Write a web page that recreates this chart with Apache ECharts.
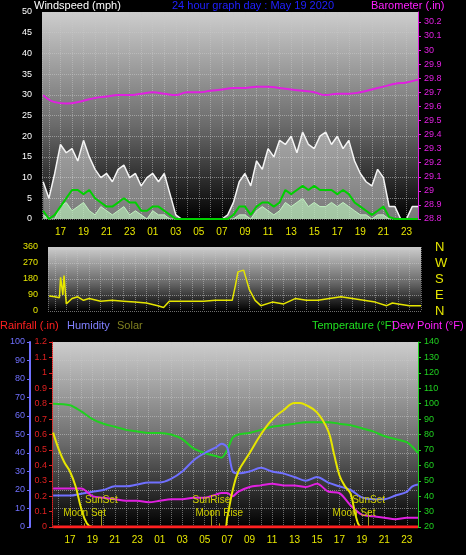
<!DOCTYPE html>
<html><head><meta charset="utf-8">
<script src="https://cdn.jsdelivr.net/npm/echarts@6/dist/echarts.min.js"></script>
<style>html,body{margin:0;background:#000}#c{width:466px;height:555px}</style>
</head><body><div id="c"></div>
<script>
// hours since midnight of first day (24 = 00 next day)
const windTimes = [15.5,16,16.5,17,17.5,18,18.5,19,19.5,20,20.5,21,21.5,22,22.5,23,23.5,24,24.5,25,25.5,26,26.5,27,27.5,28,28.5,29,29.5,30,30.5,31,31.5,32,32.5,33,33.5,34,34.5,35,35.5,36,36.5,37,37.5,38,38.5,39,39.5,40,40.5,41,41.5,42,42.5,43,43.5,44,44.5,45,45.5,46,46.5,47,47.5,48];
const windGust = [9,5,11,18,16,17,14,19,15,12,10,11,9,12,13,10,11,8,10,11,9,11,6,1,0,0,0,0,0,0,0,0,1,4,9,11,8,14,12,17,15,19,18,20,16,21,18,17,20,21,18,20,17,19,14,11,9,8,12,10,3,3,0,0,3,3];
const windAvg = [2,0,1,3,5,7,7,6,7,5,4,3,3,4,5,4,4,2,2,3,3,2,1,0,0,0,0,0,0,0,0,0,0,1,3,3,1,3,4,4,3,4,7,6,7,8,7,8,7,7,7,6,7,6,4,3,2,1,2,3,0.5,0,0,0,0,0];
const windLull = [1,0,0,3,4,2,3,4,2,1,3,2,1,2,3,1,2,1,0,2,1,1,0,0,0,0,0,0,0,0,0,0,0,0,1,1,0,2,3,2,1,2,4,3,4,5,3,4,3,3,4,3,4,3,2,1,1,0,1,1,0,0,0,0,0,0];
const baroTimes = [15.5,16.5,17.5,19,20,21,22,23,24,25,26,27,28,29,30,31,32,33,34,35,36,37,38,39,40,41,42,43,44,45,46,47,48];
const baro = [29.68,29.63,29.62,29.64,29.66,29.67,29.68,29.68,29.69,29.70,29.69,29.68,29.70,29.70,29.71,29.72,29.73,29.73,29.74,29.74,29.73,29.72,29.71,29.70,29.68,29.69,29.69,29.70,29.72,29.74,29.76,29.77,29.79];
const dirTimes = [15.5,16,16.4,16.5,16.7,16.8,17,17.5,18,18.5,19,20,21,22,23,24,25,25.5,26,27,28,29,30,31,31.5,31.8,32,32.5,33,33.5,34,35,36,37,38,39,40,41,42,43,44,45,45.5,46,47,48];
const windDir = [85,80,75,190,90,200,40,70,80,60,70,55,60,55,50,45,30,20,55,55,55,55,60,60,60,150,220,230,120,60,30,50,40,70,60,60,70,80,70,60,50,30,45,40,30,30];
const wxTimes = [15.5,17,18,19,20,21,22,23,24,25,26,27,28,29,30,30.5,31,31.5,32,33,34,35,36,37,38,39,40,41,42,43,44,45,46,47,47.5,48];
const temperature = [100,99,95,90,87,85,83,82,81,81,80,77,71,68,66,65,70,78,80,81,83,85,86,87,88,88,88,87,86,84,82,79,77,75,72,68];
const humidity = [17,17,18,19,20,22,22,23,24,24,26,30,36,40,43,45,43,30,29,30,32,30,29,27,25,27,24,22,20,16,15,15,17,19,22,23];
const dewPoint = [45,45,45,40,39,38,37,37,36,37,38,38,39,39,41,42,42,40,43,46,47,48,47,47,46,48,43,42,34,28,27,26,25,26,26,26];
const solarTimes = [15.5,16,16.5,17,17.5,18,18.5,19,30.8,31,31.5,32,33,34,35,36,37,37.5,38,39,40,40.5,41,41.5,42,42.5,43,48];
const solar = [51,42,35,30,22,10,2,0,0,5,20,30,40,50,58,63,67,67,66,62,52,40,28,22,18,5,0,0];
const rainTimes = [15.5,48];
const rainfall = [0,0];
const hourTicks = [17,19,21,23,25,27,29,31,33,35,37,39,41,43,45,47];
const events = [{t:19.8,name:'SunSet',h:9},{t:29.6,name:'SunRise',h:9},{t:43.6,name:'SunSet',h:9},{t:18.3,name:'Moon Set',h:2},{t:30.3,name:'Moon Rise',h:2},{t:42.3,name:'Moon Set',h:2}];

const zip = (ts, vs) => ts.map((t,i)=>[t,vs[i]]);
const hh = v => String(Math.round(v)%24).padStart(2,'0');
const bg = {type:'linear',x:0,y:0,x2:0,y2:1,colorStops:[{offset:0,color:'#cdcdcd'},{offset:0.55,color:'#6a6a6a'},{offset:1,color:'#000'}]};
const split = {show:true,lineStyle:{color:'rgba(200,200,200,0.55)',type:'dotted'}};
const xBase = (gi, show) => ({type:'value',gridIndex:gi,min:15.4,max:48,
  axisLine:{show:false},axisTick:{show:false},
  splitLine:{show:true,lineStyle:{color:'rgba(200,200,200,0.5)',type:'dotted'}},
  axisLabel:{show:show,customValues:hourTicks,formatter:hh,color:'#e6e600',fontSize:10,margin:8},
  splitNumber:32});
const font = 'Liberation Sans';
const tf = '11px '+font;
const chart = echarts.init(document.getElementById('c'));
chart.setOption({
  backgroundColor:'#000', animation:false,
  textStyle:{fontFamily:font},
  grid:[
    {left:42,top:12,width:376,height:207,show:true,backgroundColor:bg,borderWidth:0},
    {left:48,top:247,width:373,height:64,show:true,backgroundColor:bg,borderWidth:0},
    {left:52,top:342,width:366,height:185,show:true,backgroundColor:bg,borderWidth:0}
  ],
  graphic:[
    {type:'text',left:34,top:0,style:{text:'Windspeed (mph)',fill:'#fff',font:tf}},
    {type:'text',left:172,top:0,style:{text:'24 hour graph day : May 19 2020',fill:'#2020ff',font:tf}},
    {type:'text',left:371,top:0,style:{text:'Barometer (.in)',fill:'#ff20ff',font:tf}},
    {type:'text',left:0,top:320,style:{text:'Rainfall (.in)',fill:'#ff2020',font:tf}},
    {type:'text',left:67,top:320,style:{text:'Humidity',fill:'#8080ff',font:tf}},
    {type:'text',left:117,top:320,style:{text:'Solar',fill:'#808020',font:tf}},
    {type:'text',left:312,top:320,style:{text:'Temperature (°F)',fill:'#20e020',font:tf}},
    {type:'text',left:392,top:320,style:{text:'Dew Point (°F)',fill:'#ff20ff',font:tf}}
  ],
  xAxis:[xBase(0,true),xBase(1,false),xBase(2,true)],
  yAxis:[
    {gridIndex:0,min:0,max:50,interval:5,axisLine:{show:false},axisTick:{show:false},splitLine:split,axisLabel:{color:'#fff',fontSize:9,margin:10}},
    {gridIndex:0,min:28.8,max:30.27,interval:0.1,position:'right',axisLine:{show:true,lineStyle:{color:'#e020e0'}},axisTick:{show:true,length:3},splitLine:{show:false},axisLabel:{color:'#e020e0',fontSize:9,margin:6,showMaxLabel:false,formatter:v=>(+v.toFixed(1)).toString()}},
    {gridIndex:1,min:0,max:360,interval:90,axisLine:{show:false},axisTick:{show:false},splitLine:split,axisLabel:{color:'#e6e600',fontSize:9,margin:10}},
    {gridIndex:1,min:0,max:360,interval:90,position:'right',axisLine:{show:false},axisTick:{show:false},splitLine:{show:false},axisLabel:{color:'#e6e600',fontSize:13,margin:14,formatter:v=>({0:'N',90:'E',180:'S',270:'W',360:'N'})[v]}},
    {gridIndex:2,min:0,max:100,interval:10,position:'left',offset:22,axisLine:{show:true,lineStyle:{color:'#7070ff',width:2}},axisTick:{show:true,length:3},splitLine:split,axisLabel:{color:'#7070ff',fontSize:9,margin:5}},
    {gridIndex:2,min:0,max:1.2,interval:0.1,position:'left',axisLine:{show:true,lineStyle:{color:'#e02020',type:'dotted'}},axisTick:{show:true,length:3},splitLine:{show:false},axisLabel:{color:'#e02020',fontSize:9,margin:5,formatter:v=>(+v.toFixed(1)).toString()}},
    {gridIndex:2,min:20,max:140,interval:10,position:'right',axisLine:{show:true,lineStyle:{color:'#20d020'}},axisTick:{show:true,length:3},splitLine:{show:false},axisLabel:{color:'#20d020',fontSize:9,margin:6}}
  ],
  series:[
    {type:'line',xAxisIndex:0,yAxisIndex:0,data:zip(windTimes,windGust),symbol:'none',lineStyle:{color:'#f4f4f4',width:1.5},areaStyle:{color:'rgba(230,230,230,0.75)'}},
    {type:'line',xAxisIndex:0,yAxisIndex:0,data:zip(windTimes,windLull),symbol:'none',lineStyle:{color:'#c0f0c0',width:1},areaStyle:{color:'#b8e8b8'}},
    {type:'line',xAxisIndex:0,yAxisIndex:0,data:zip(windTimes,windAvg),symbol:'none',lineStyle:{color:'#00d000',width:2}},
    {type:'line',xAxisIndex:0,yAxisIndex:1,data:zip(baroTimes,baro),symbol:'none',smooth:true,lineStyle:{color:'#e020e0',width:2}},
    {type:'line',xAxisIndex:1,yAxisIndex:2,data:zip(dirTimes,windDir),symbol:'none',lineStyle:{color:'#e6e600',width:1.5}},
    {type:'line',xAxisIndex:2,yAxisIndex:6,data:zip(wxTimes,temperature),symbol:'none',smooth:0.3,lineStyle:{color:'#20d020',width:2}},
    {type:'line',xAxisIndex:2,yAxisIndex:4,data:zip(wxTimes,humidity),symbol:'none',smooth:0.3,lineStyle:{color:'#7070ff',width:2}},
    {type:'line',xAxisIndex:2,yAxisIndex:6,data:zip(wxTimes,dewPoint),symbol:'none',smooth:0.3,lineStyle:{color:'#e020e0',width:2}},
    {type:'line',xAxisIndex:2,yAxisIndex:4,data:zip(solarTimes,solar),symbol:'none',smooth:0.4,lineStyle:{color:'#e6e600',width:2},
      markLine:{silent:true,symbol:'none',lineStyle:{color:'#a0a020',type:'solid',width:1},
        label:{show:true,position:'end',color:'#d0d000',fontSize:10,fontFamily:font,formatter:p=>p.name},
        data:events.map(e=>[{name:e.name,coord:[e.t,0]},{coord:[e.t,e.h]}])}},
    {type:'line',xAxisIndex:2,yAxisIndex:5,data:zip(rainTimes,rainfall),symbol:'none',lineStyle:{color:'#ff2020',width:3},z:5}
  ]
});
</script></body></html>
